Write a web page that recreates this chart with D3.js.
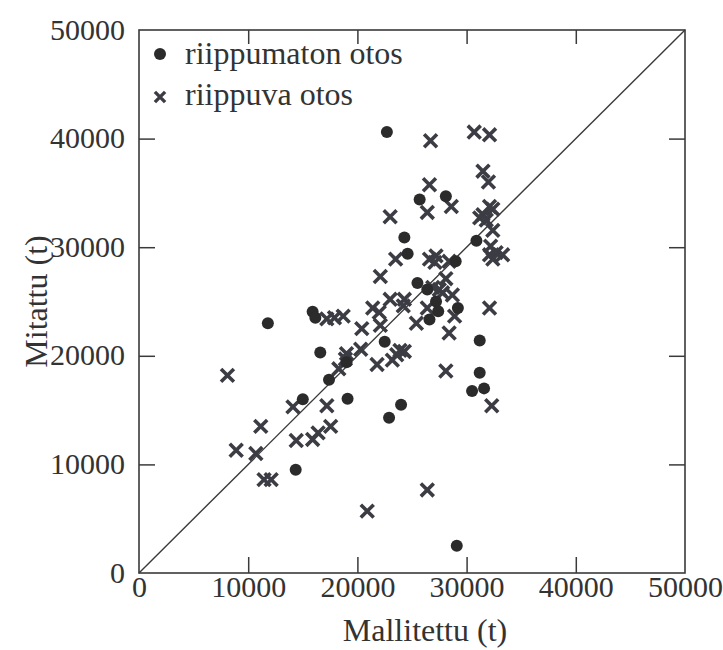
<!DOCTYPE html>
<html>
<head>
<meta charset="utf-8">
<script src="https://cdn.jsdelivr.net/npm/d3@7"></script>
<style>
  body { margin: 0; background: #fff; }
  text { font-family: "Liberation Serif", "DejaVu Serif", serif; fill: #333; }
</style>
</head>
<body>
<div id="chart"></div>
<script>
// values in tonnes, [mallitettu, mitattu]
const riippumaton = [
    [22700, 40600], [25700, 34400], [28100, 34700], [24300, 30900], [24600, 29400],
    [30900, 30600], [29000, 28700], [25500, 26700], [26400, 26100], [27200, 25000],
    [27400, 24100], [29200, 24400], [26600, 23350], [15900, 24050], [16150, 23500],
    [11800, 23000], [16600, 20300], [22500, 21300], [31200, 21400], [31200, 18450],
    [30500, 16750], [31600, 17000], [24000, 15500], [22900, 14300], [19000, 19400],
    [17400, 17800], [15000, 16000], [19100, 16050], [14350, 9500], [29100, 2500]
];

const riippuva = [
    [26700, 39800], [30700, 40600], [32100, 40350], [31500, 37000], [32000, 36000],
    [26600, 35750], [26400, 33200], [28600, 33750], [23000, 32800], [32100, 33750],
    [31500, 33000], [31200, 32700], [31800, 32500], [32400, 33500], [32400, 31550],
    [23500, 28900], [26600, 28900], [27200, 29200], [27100, 28600], [28400, 28700],
    [32200, 30100], [32100, 29300], [32700, 29500], [33300, 29300], [32400, 28900],
    [22100, 27300], [28100, 27100], [26900, 26300], [27500, 26100], [27800, 25800],
    [28700, 25600], [24300, 25200], [24200, 24600], [23000, 25200], [26400, 24400],
    [28900, 23650], [25400, 23000], [28400, 22100], [32100, 24400], [21400, 24400],
    [22000, 24000], [20400, 22500], [22100, 22800], [17200, 23400], [17900, 23500],
    [18700, 23650], [20300, 20600], [19000, 20200], [18900, 19700], [18300, 18800],
    [21800, 19200], [23900, 20500], [23600, 20100], [23200, 19600], [24300, 20400],
    [28100, 18600], [8100, 18200], [14100, 15300], [17200, 15400], [11150, 13500],
    [17550, 13500], [16400, 12900], [15900, 12300], [14400, 12200], [8900, 11300],
    [10700, 11000], [11450, 8600], [12100, 8600], [20900, 5700], [26400, 7650],
    [32300, 15400]
];

const ticks = [0, 10000, 20000, 30000, 40000, 50000];
const legendLabels = ["riippumaton otos", "riippuva otos"];

const W = 723, H = 650;
const margin = { top: 30, right: 38, bottom: 77, left: 139 };
const width = W - margin.left - margin.right,
      height = H - margin.top - margin.bottom;

const svg = d3.select("#chart").append("svg")
    .attr("width", W)
    .attr("height", H);

const g = svg.append("g")
    .attr("transform", `translate(${margin.left},${margin.top})`);

const x = d3.scaleLinear().domain([0, 50000]).range([0, width]);
const y = d3.scaleLinear().domain([0, 50000]).range([height, 0]);

const ink = "#3a3a3a";

// axes, ticks pointing inward on all four sides
function styleAxis(sel) {
    sel.select(".domain").remove();
    sel.selectAll(".tick line").attr("stroke", ink).attr("stroke-width", 1.5);
    sel.selectAll(".tick text").style("font-size", "30px").attr("fill", "#333");
}

const inner = ticks.slice(1, -1);

g.append("g")
    .attr("transform", `translate(0,${height})`)
    .call(d3.axisBottom(x).tickValues(ticks).tickFormat(d3.format("d"))
        .tickSizeInner(0).tickPadding(3))
    .call(styleAxis);

g.append("g")
    .call(d3.axisLeft(y).tickValues(ticks).tickFormat(d3.format("d"))
        .tickSizeInner(0).tickPadding(14))
    .call(styleAxis)
    .selectAll(".tick text").attr("dy", "0.3em");

// tick marks
g.append("g").attr("transform", `translate(0,${height})`)
    .call(d3.axisTop(x).tickValues(inner).tickSize(16).tickFormat(""))
    .call(styleAxis);
g.append("g")
    .call(d3.axisBottom(x).tickValues(inner).tickSize(14).tickFormat(""))
    .call(styleAxis);
g.append("g")
    .call(d3.axisRight(y).tickValues(inner).tickSize(16).tickFormat(""))
    .call(styleAxis);
g.append("g").attr("transform", `translate(${width},0)`)
    .call(d3.axisLeft(y).tickValues(inner).tickSize(16).tickFormat(""))
    .call(styleAxis);

// frame
g.append("rect")
    .attr("width", width)
    .attr("height", height)
    .attr("fill", "none")
    .attr("stroke", ink)
    .attr("stroke-width", 1.6);

// 1:1 line
g.append("line")
    .attr("x1", x(0)).attr("y1", y(0))
    .attr("x2", x(50000)).attr("y2", y(50000))
    .attr("stroke", ink)
    .attr("stroke-width", 1.4);

const cross = d3.symbol().type(d3.symbolX).size(110);
const crossColor = "#3c3c44";

g.selectAll(".risti")
    .data(riippuva)
    .enter().append("path")
    .attr("class", "risti")
    .attr("d", cross)
    .attr("transform", d => `translate(${x(d[0])},${y(d[1])})`)
    .attr("fill", "none")
    .attr("stroke", crossColor)
    .attr("stroke-width", 3.6);

g.selectAll(".piste")
    .data(riippumaton)
    .enter().append("circle")
    .attr("class", "piste")
    .attr("cx", d => x(d[0]))
    .attr("cy", d => y(d[1]))
    .attr("r", 6)
    .attr("fill", "#2b2b2b");

// legend
const legend = g.append("g").attr("transform", "translate(21,24)");
legend.append("circle").attr("cx", 0).attr("cy", 0).attr("r", 6).attr("fill", "#2b2b2b");
legend.append("path").attr("d", d3.symbol().type(d3.symbolX).size(70))
    .attr("transform", "translate(0,43)")
    .attr("fill", "none").attr("stroke", crossColor).attr("stroke-width", 3.4);
legend.selectAll("text")
    .data(legendLabels)
    .enter().append("text")
    .attr("x", 25)
    .attr("y", (d, i) => i * 41)
    .attr("dy", "0.3em")
    .style("font-size", "32px")
    .text(d => d);

// axis titles
svg.append("text")
    .attr("text-anchor", "middle")
    .attr("x", 425)
    .attr("y", 641)
    .style("font-size", "32px")
    .text("Mallitettu (t)");

svg.append("text")
    .attr("text-anchor", "middle")
    .attr("transform", `translate(47,${margin.top + height / 2}) rotate(-90)`)
    .style("font-size", "32px")
    .text("Mitattu (t)");
</script>
</body>
</html>
